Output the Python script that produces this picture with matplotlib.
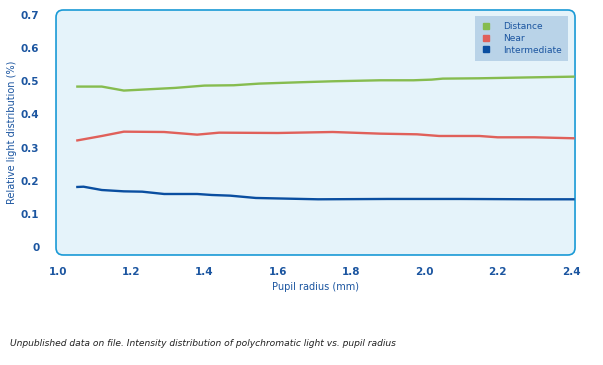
import matplotlib
matplotlib.use('Agg')
import matplotlib.pyplot as plt
from matplotlib.patches import FancyBboxPatch
from matplotlib.lines import Line2D

plt.rcParams['font.family'] = ['DejaVu Sans']

# values
distance_x = [1.05, 1.12, 1.18, 1.25, 1.32, 1.40, 1.48, 1.55, 1.66, 1.75, 1.88, 1.97, 2.02, 2.05, 2.15, 2.25, 2.41]
distance_y = [0.484, 0.484, 0.472, 0.476, 0.480, 0.487, 0.488, 0.493, 0.497, 0.500, 0.503, 0.503, 0.505, 0.508, 0.509, 0.511, 0.514]

near_x = [1.05, 1.12, 1.18, 1.29, 1.38, 1.44, 1.60, 1.75, 1.88, 1.98, 2.04, 2.15, 2.20, 2.30, 2.41]
near_y = [0.321, 0.335, 0.348, 0.347, 0.339, 0.345, 0.344, 0.347, 0.342, 0.340, 0.335, 0.335, 0.331, 0.331, 0.328]

inter_x = [1.05, 1.07, 1.12, 1.18, 1.23, 1.29, 1.38, 1.42, 1.47, 1.54, 1.71, 1.90, 2.10, 2.30, 2.41]
inter_y = [0.181, 0.182, 0.172, 0.168, 0.167, 0.160, 0.160, 0.157, 0.155, 0.148, 0.144, 0.145, 0.145, 0.144, 0.144]

series = [
    ('Distance', distance_x, distance_y, '#86bc4f'),
    ('Near', near_x, near_y, '#e0605a'),
    ('Intermediate', inter_x, inter_y, '#0a4ea0'),
]

x_ticks = [1.0, 1.2, 1.4, 1.6, 1.8, 2.0, 2.2, 2.4]
y_ticks = [0, 0.1, 0.2, 0.3, 0.4, 0.5, 0.6, 0.7]
y_ticklabels = ['0', '0.1', '0.2', '0.3', '0.4', '0.5', '0.6', '0.7']

TXT = '#1b55a0'

fig = plt.figure(figsize=(6.03, 3.65), dpi=100)
ax = fig.add_axes([0.0929, 0.3014, 0.8607, 0.6712])
ax.patch.set_visible(False)
for s in ax.spines.values():
    s.set_visible(False)

bg = FancyBboxPatch((0.0929, 0.3014), 0.8607, 0.6712,
                    boxstyle='round,pad=0,rounding_size=0.012',
                    mutation_aspect=1.65, transform=fig.transFigure,
                    facecolor='#e5f3fa', edgecolor='#1a9ad6', linewidth=1.2,
                    zorder=-1)
fig.patches.append(bg)

for name, xs, ys, c in series:
    ax.plot(xs, ys, color=c, linewidth=1.7, solid_capstyle='butt')

ax.set_xlim(0.995, 2.411)
ax.set_ylim(-0.024, 0.715)
ax.set_xticks(x_ticks)
ax.set_xticklabels(['%.1f' % v for v in x_ticks])
ax.set_yticks(y_ticks)
ax.set_yticklabels(y_ticklabels)
ax.tick_params(length=0, labelsize=7.5, labelcolor=TXT)
ax.tick_params(axis='x', pad=9)
ax.tick_params(axis='y', pad=12)
for lab in ax.get_xticklabels() + ax.get_yticklabels():
    lab.set_fontweight('bold')

ax.set_xlabel('Pupil radius (mm)', fontsize=7, color=TXT, labelpad=3)
ax.set_ylabel('Relative light distribution (%)', fontsize=7, color=TXT)
ax.yaxis.set_label_coords(-0.076, 0.5)

handles = [Line2D([], [], linestyle='none', marker='s', markersize=4.5,
                  markerfacecolor=c, markeredgecolor=c) for _, _, _, c in series]
leg = ax.legend(handles, [s[0] for s in series], loc='upper right',
                bbox_to_anchor=(0.986, 0.976), fontsize=6.5, frameon=True,
                fancybox=False, facecolor='#b9d3e8', edgecolor='none',
                framealpha=1, handlelength=1.0, handletextpad=1.4,
                labelspacing=0.3, borderpad=0.7, borderaxespad=0)
for t in leg.get_texts():
    t.set_color(TXT)

fig.text(0.017, 0.06, 'Unpublished data on file. Intensity distribution of polychromatic light vs. pupil radius',
         fontsize=6.6, style='italic', color='#222222', ha='left', va='center')

fig.savefig('out.png', dpi=100)
